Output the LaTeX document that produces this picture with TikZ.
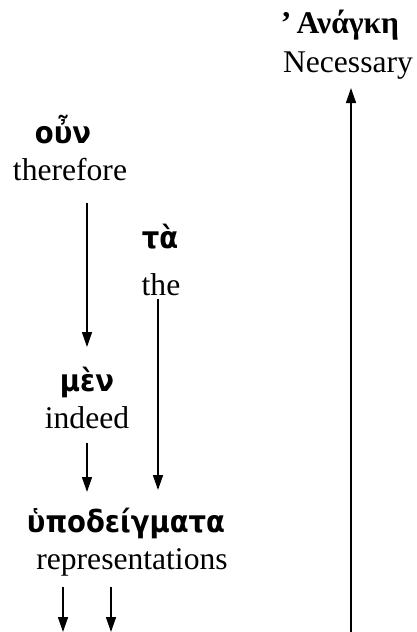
\documentclass[tikz,border=0pt]{standalone}
\usepackage{fontspec}
\setmainfont{Liberation Serif}
\newfontfamily\grk{DejaVu Sans Condensed}[Script=Greek]
\newfontfamily\grktimes{Liberation Serif}[Script=Greek]
\usetikzlibrary{arrows.meta}
\tikzset{
  eng/.style={anchor=base,inner sep=0pt,font=\fontsize{31.6}{34}\selectfont},
  gk/.style={anchor=base,inner sep=0pt,font=\fontsize{30.5}{32}\grk\bfseries},
  gkt/.style={anchor=base,inner sep=0pt,font=\fontsize{31.6}{34}\grktimes\bfseries},
  arr/.style={line width=1.5pt,-{Triangle[length=15pt,width=10pt]}}
}
\begin{document}
\begin{tikzpicture}[x=1pt,y=-1pt]
\useasboundingbox (0,0) rectangle (417,632);
% words
\node[gkt] (anagke) at (340,33) {’\,Ανάγκη};
\node[eng] (necessary) at (348,72) {Necessary};
\node[gk] (oun) at (63,143) {οὖν};
\node[eng] (therefore) at (70,180) {therefore};
\node[gk] (ta) at (160,248) {τὰ};
\node[eng] (the) at (161,295) {the};
\node[gk] (men) at (87,391) {μὲν};
\node[eng] (indeed) at (87,428) {indeed};
\node[gk] (hypo) at (126,532) {ὑποδείγματα};
\node[eng] (repr) at (132,569) {representations};
% connector ends
\coordinate (c1s) at (87,203);
\coordinate (c1e) at (87,347);
\coordinate (c2s) at (158,299);
\coordinate (c2e) at (158,490);
\coordinate (c3s) at (87,443);
\coordinate (c3e) at (87,492);
\coordinate (c4s) at (63,587);
\coordinate (c4e) at (63,632);
\coordinate (c5s) at (111,587);
\coordinate (c5e) at (111,632);
\coordinate (c6s) at (351,632);
\coordinate (c6e) at (351,88);
% connectors
\draw[arr] (c1s) -- (c1e);
\draw[arr] (c2s) -- (c2e);
\draw[arr] (c3s) -- (c3e);
\draw[arr] (c4s) -- (c4e);
\draw[arr] (c5s) -- (c5e);
\draw[arr] (c6s) -- (c6e);
\end{tikzpicture}
\end{document}
